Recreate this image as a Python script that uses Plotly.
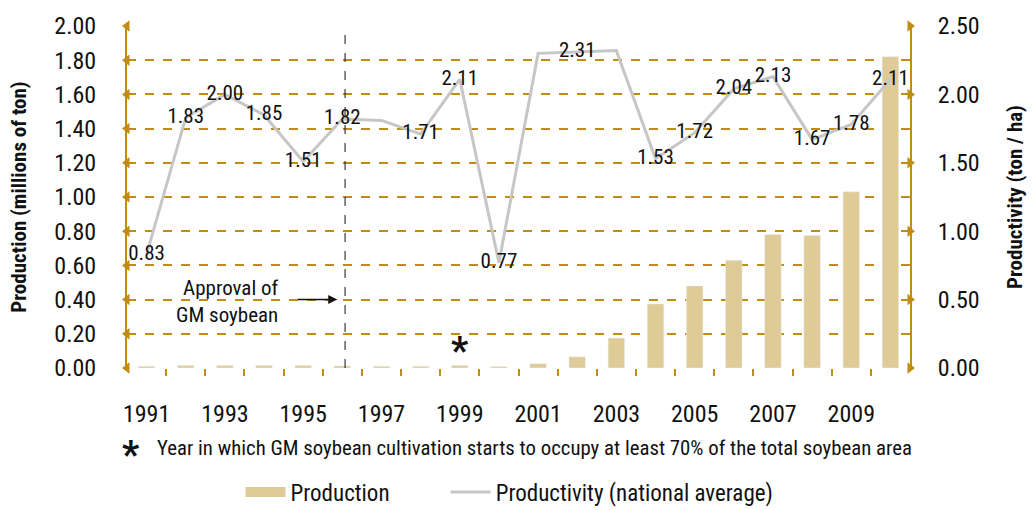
import plotly.graph_objects as go

years = list(range(1991, 2011))
production = [0.010, 0.015, 0.015, 0.015, 0.015, 0.012, 0.010, 0.010, 0.015, 0.008,
              0.025, 0.065, 0.175, 0.375, 0.480, 0.630, 0.780, 0.775, 1.030, 1.820]
productivity = [0.83, 1.83, 2.00, 1.85, 1.51, 1.82, 1.81, 1.71, 2.11, 0.77,
                2.30, 2.31, 2.32, 1.53, 1.72, 2.04, 2.13, 1.67, 1.78, 2.11]
# years without a printed value
unlabeled = [1997, 2001, 2003]
xtick_years = list(range(1991, 2011, 2))
left_ticks = [0.0, 0.2, 0.4, 0.6, 0.8, 1.0, 1.2, 1.4, 1.6, 1.8, 2.0]
right_ticks = [0.0, 0.5, 1.0, 1.5, 2.0, 2.5]

gold = "#C08C14"
tan = "#DFCB98"
grey = "#C6C6C6"
font = "Liberation Sans Narrow, Roboto Condensed, Roboto, sans-serif"

labels = ["" if y in unlabeled else f"{v:.2f}" for y, v in zip(years, productivity)]

fig = go.Figure()
fig.add_trace(go.Bar(x=years, y=production, name="Production", showlegend=False,
                     marker_color=tan, width=0.42, yaxis="y"))
# legend-only entry so the key is a wide block like the original
fig.add_trace(go.Scatter(x=[None], y=[None], name="Production", mode="lines",
                         line=dict(color=tan, width=10), legend="legend"))
fig.add_trace(go.Scatter(x=years, y=productivity, name="Productivity (national average)",
                         mode="lines+text", text=labels, textposition="middle center",
                         textfont=dict(size=21, color="#111"),
                         line=dict(color=grey, width=3), yaxis="y2", legend="legend2"))

# arrow-like tick marks on both value axes
fig.add_trace(go.Scatter(x=[1990.5] * len(left_ticks), y=left_ticks, mode="markers",
                         marker=dict(symbol="triangle-left", size=10, color=gold),
                         cliponaxis=False, showlegend=False, hoverinfo="skip", yaxis="y"))
fig.add_trace(go.Scatter(x=[2010.5] * len(right_ticks), y=right_ticks, mode="markers",
                         marker=dict(symbol="triangle-right", size=10, color=gold),
                         cliponaxis=False, showlegend=False, hoverinfo="skip", yaxis="y2"))

fig.add_shape(type="line", x0=1996.07, x1=1996.07, y0=0, y1=1, xref="x", yref="paper",
              line=dict(color="#111", width=1, dash="dash"))

fig.add_annotation(x=1995.87, y=0.4, xref="x", yref="y", text="",
                   showarrow=True, arrowhead=2, arrowsize=1.2, arrowwidth=1.5,
                   arrowcolor="#111", ax=-41, ay=0)
fig.add_annotation(x=1994.44, y=0.39, xref="x", yref="y", text="Approval of<br>GM soybean",
                   showarrow=False, xanchor="right", align="right",
                   font=dict(size=21, color="#111"))
fig.add_annotation(x=1999, y=0.10, xref="x", yref="y", text="<b>*</b>",
                   showarrow=False, font=dict(size=38, color="#111"))

fig.add_annotation(x=0.005, y=-0.255, xref="paper", yref="paper", text="<b>*</b>",
                   showarrow=False, xanchor="center", yanchor="middle",
                   font=dict(size=38, color="#111"))
fig.add_annotation(x=0.036, y=-0.235, xref="paper", yref="paper",
                   text="Year in which GM soybean cultivation starts to occupy at least 70% of the total soybean area",
                   showarrow=False, xanchor="left", yanchor="middle",
                   font=dict(size=20.8, color="#111"))

legend_style = dict(orientation="h", xanchor="left", y=0.035, yanchor="middle",
                    yref="container", font=dict(size=23), itemwidth=40,
                    bgcolor="rgba(0,0,0,0)")

fig.update_layout(
    width=1035, height=510,
    margin=dict(l=127, r=122, t=21, b=142),
    plot_bgcolor="white", paper_bgcolor="white",
    font=dict(family=font, size=20, color="#111"),
    xaxis=dict(range=[1990.5, 2010.5], tickvals=xtick_years, ticks="",
               showgrid=False, zeroline=False, showline=False,
               ticklabelstandoff=29, tickfont=dict(size=24),
               minor=dict(tickvals=[y + 0.5 for y in years[:-1]], ticks="outside",
                          ticklen=7, tickcolor=gold, tickwidth=1.5)),
    yaxis=dict(range=[0, 2.0], tickvals=left_ticks,
               ticktext=[f"{t:.2f}" for t in left_ticks], tickfont=dict(size=24),
               showgrid=True, gridcolor=gold, griddash="dash", gridwidth=1.5,
               zeroline=False, showline=True, linecolor=gold, linewidth=2,
               ticks="", ticklabelstandoff=24,
               title=dict(text="<b>Production (millions of ton)</b>", font=dict(size=21), standoff=22)),
    yaxis2=dict(range=[0, 2.5], tickvals=right_ticks,
                ticktext=[f"{t:.2f}" for t in right_ticks], tickfont=dict(size=24),
                overlaying="y", side="right", showgrid=False, zeroline=False,
                showline=True, linecolor=gold, linewidth=2, ticks="",
                ticklabelstandoff=21,
                title=dict(text="<b>Productivity (ton / ha)</b>", font=dict(size=21), standoff=29)),
    legend=dict(x=0.145, **legend_style),
    legend2=dict(x=0.407, **legend_style),
)

# drop the default page margin so the figure sits at the window's corner
fig.write_html("out.html", config={"displayModeBar": False},
               post_script="document.body.style.margin='0';")
